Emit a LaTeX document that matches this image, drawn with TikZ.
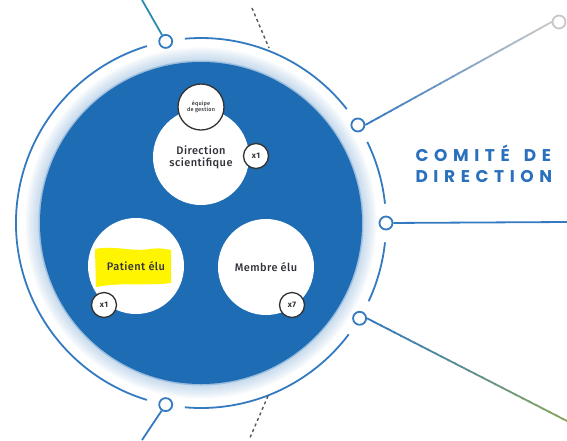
\documentclass[tikz,border=0pt]{standalone}
\usepackage{fontspec}
\setsansfont{Fira Sans Medium}[LetterSpace=4, BoldFont=Fira Sans Bold]
\newfontfamily\titlefont[LetterSpace=33]{Poppins Bold}
\usepackage{tikz}
\usetikzlibrary{calc}

\definecolor{discblue}{RGB}{30,108,180}
\definecolor{ringblue}{RGB}{52,122,192}
\definecolor{titleblue}{RGB}{42,112,188}
\definecolor{fadegray}{RGB}{200,200,200}
\definecolor{fadegreen}{RGB}{135,165,95}
\definecolor{tealline}{RGB}{45,140,170}
\definecolor{badgegray}{RGB}{50,50,50}
\definecolor{labelgray}{RGB}{50,50,58}
\definecolor{marker}{RGB}{255,245,0}

\tikzset{
  member/.style={circle, fill=white, minimum size=96, inner sep=0, text=labelgray,
    font=\sffamily\fontsize{11}{12}\selectfont, align=center},
  badge/.style={circle, draw=badgegray, fill=white, line width=1.3, minimum size=25,
    inner sep=0, font=\sffamily\bfseries\fontsize{8}{8}\selectfont, text=badgegray},
  ringdot/.style={circle, draw=ringblue, fill=white, line width=1.8, minimum size=13, inner sep=0},
  ring/.style={ringblue, line width=1.8},
  link/.style={line width=1.8}
}

\begin{document}
\begin{tikzpicture}[x=1pt, y=-1pt]
    \useasboundingbox (0,0) rectangle (567,440);
    \coordinate (C) at (201,223);

    % halo and disc
    \foreach \r in {161,...,176}
        \fill[discblue, opacity=0.018] (C) circle[radius=\r];
    \fill[discblue, opacity=0.25] (C) circle[radius=162.5];
    \fill[discblue] (C) circle[radius=161];

    % outer ring, cut around the dots
    \draw[ring] ($(C)+(-95:185)$) arc[start angle=-95, end angle=-38, radius=185];
    \draw[ring] ($(C)+(-26:185)$) arc[start angle=-26, end angle=-6, radius=185];
    \draw[ring] ($(C)+(6:185)$) arc[start angle=6, end angle=25, radius=185];
    \draw[ring] ($(C)+(37:185)$) arc[start angle=37, end angle=95, radius=185];
    \draw[ring] ($(C)+(107:185)$) arc[start angle=107, end angle=253, radius=185];

    % dashed links
    \coordinate (dashTa) at (252,8);
    \coordinate (dashTb) at (269,48);
    \coordinate (dashBa) at (268,396);
    \coordinate (dashBb) at (249,440);
    \draw[gray!70!black, line width=1.4, dash pattern=on 3 off 3] (dashTa) -- (dashTb);
    \draw[gray!70!black, line width=1.4, dash pattern=on 3 off 3] (dashBa) -- (dashBb);

    % dots on the ring
    \node[ringdot] (dotT) at ($(C)+(-101:185)$) {};
    \node[ringdot] (dotNE) at ($(C)+(-32:185)$) {};
    \node[ringdot] (dotE) at ($(C)+(0:185)$) {};
    \node[ringdot] (dotSE) at ($(C)+(31:185)$) {};
    \node[ringdot] (dotB) at ($(C)+(101:185)$) {};
    \node[circle, draw=fadegray, fill=white, line width=1.8, minimum size=13, inner sep=0] (endNE) at (559,22) {};

    \coordinate (endT) at (142,0);
    \coordinate (endB) at (142,440);
    \coordinate (endE) at (567,222);
    \coordinate (endSE) at (569,422);

    \draw[link, tealline] (dotT) -- (endT);
    \draw[link, ringblue] (dotB) -- (endB);
    \draw[link, ringblue] (dotE) -- (endE);
    \foreach \i in {0,...,29}{
        \pgfmathsetmacro{\pa}{\i/30}
        \pgfmathsetmacro{\pb}{(\i+1.2)/30}
        \pgfmathsetmacro{\mix}{100-\i*100/29}
        \draw[link, ringblue!\mix!fadegray] ($(dotNE.east)!\pa!(endNE.west)$) -- ($(dotNE.east)!\pb!(endNE.west)$);
        \draw[link, ringblue!\mix!fadegreen] ($(dotSE.east)!\pa!(endSE)$) -- ($(dotSE.east)!\pb!(endSE)$);
    }

    % title
    \node[text=titleblue, font=\titlefont\fontsize{17}{21.5}\selectfont, align=left, anchor=west] (title) at (412,164) {COMITÉ\hspace{5pt} DE\\DIRECTION};

    % members
    \node[member] (direction) at (201,157) {Direction\\scientifique};
    \node[circle, draw=badgegray, fill=white, line width=1.3, minimum size=46, inner sep=0,
        font=\sffamily\fontsize{5.5}{6}\selectfont, align=center, text=labelgray] (equipe) at (201,107) {équipe\\de gestion};
    \node[badge] (dirCount) at (256,156) {x1};

    \node[member] (patient) at (136,266) {};
    \fill[marker] (95,249) .. controls (115,245) and (130,252) .. (150,249)
        .. controls (160,248) .. (171,250) -- (171,283)
        .. controls (150,286) and (120,282) .. (96,287) -- cycle;
    \node[text=labelgray, font=\sffamily\fontsize{11}{12}\selectfont] (patientLabel) at (patient) {Patient élu};
    \node[badge] (patientCount) at (104,305) {x1};

    \node[member] (membre) at (266,267) {Membre élu};
    \node[badge] (membreCount) at (292,305) {x7};
\end{tikzpicture}
\end{document}
